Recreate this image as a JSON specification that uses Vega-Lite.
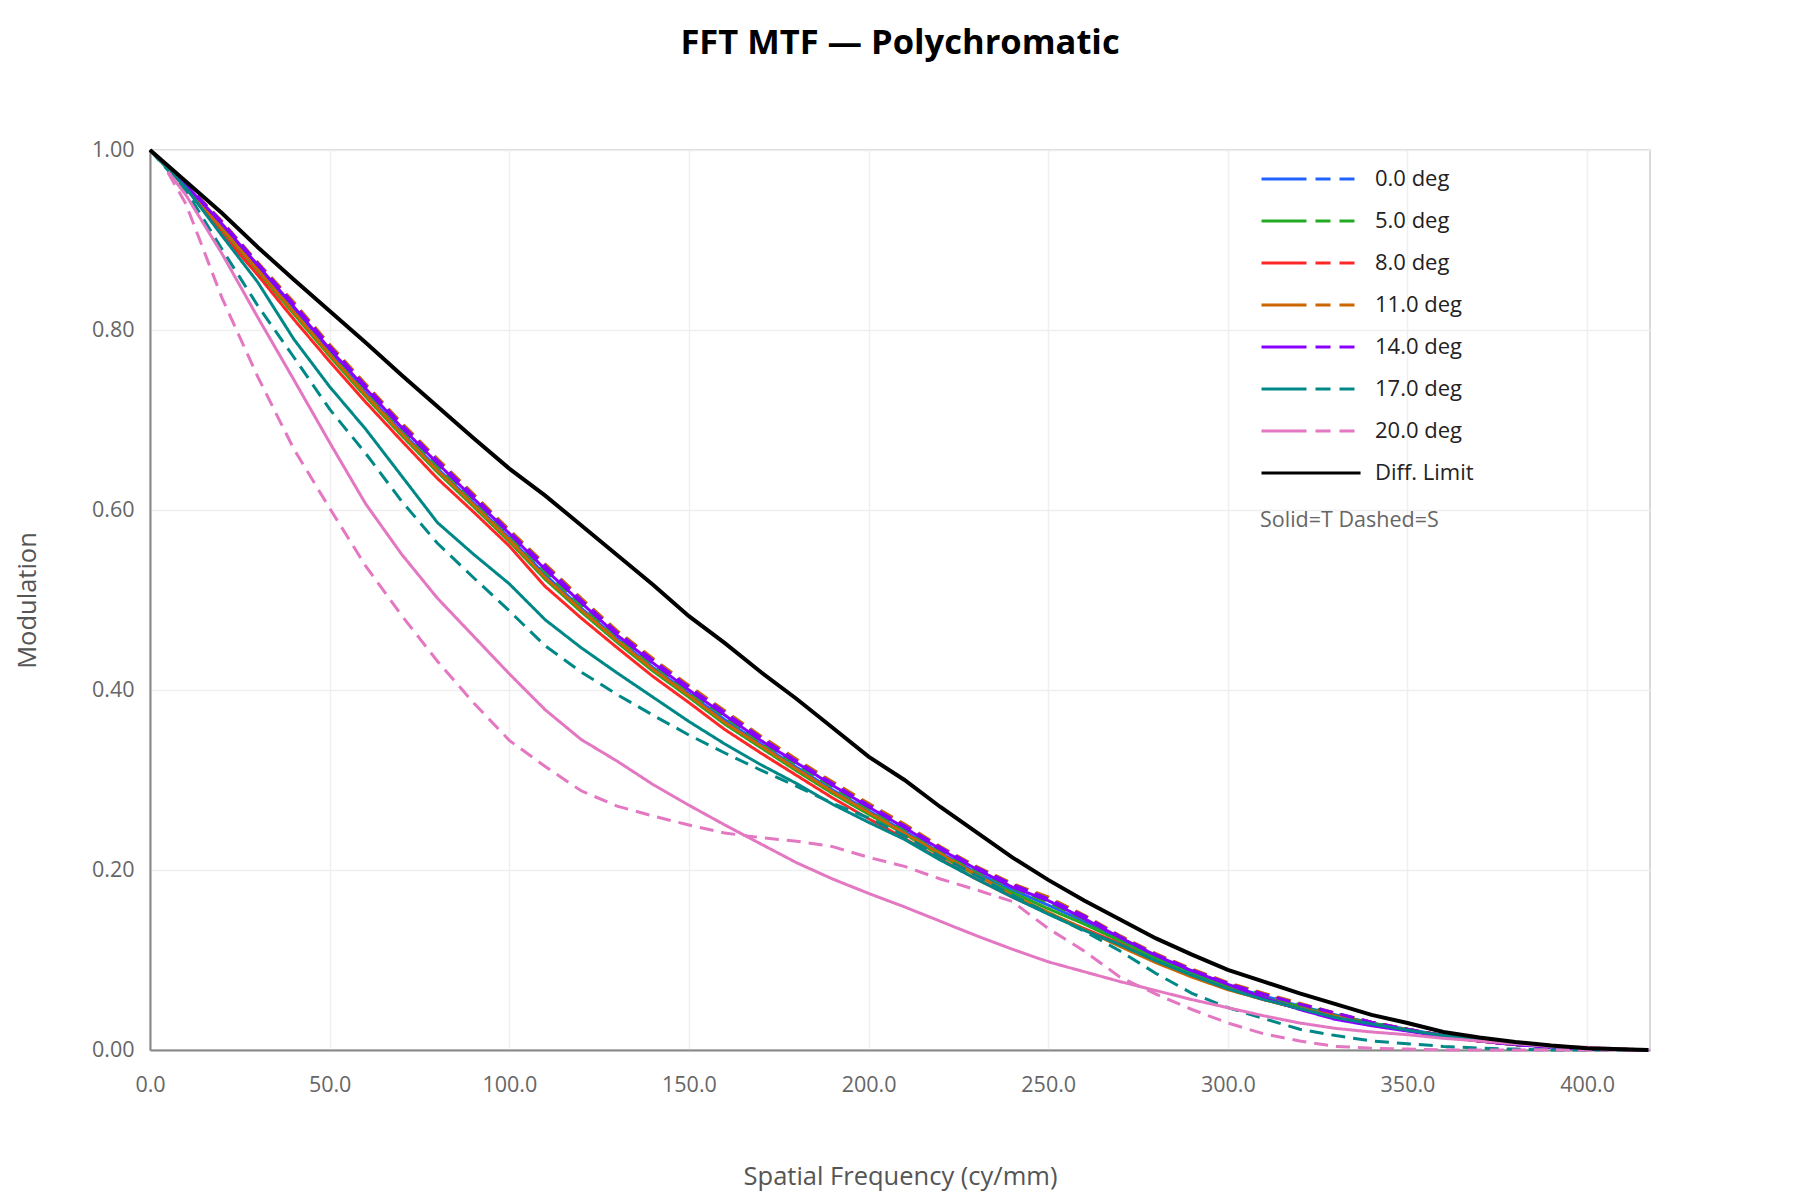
{
  "$schema": "https://vega.github.io/schema/vega-lite/v6.json",
  "width": 1500,
  "height": 900,
  "autosize": {"type": "none"},
  "padding": {"left": 150, "top": 150, "right": 150, "bottom": 150},
  "background": "#ffffff",
  "title": {
    "text": "FFT MTF — Polychromatic",
    "font": "Open Sans",
    "fontSize": 34.5,
    "fontWeight": "bold",
    "color": "#000000",
    "anchor": "middle",
    "offset": 78
  },
  "config": {
    "font": "Open Sans",
    "view": {"stroke": "#cccccc", "strokeWidth": 1.5},
    "axis": {
      "grid": true,
      "gridColor": "#efefef",
      "gridWidth": 1.5,
      "domainColor": "#888888",
      "domainWidth": 2,
      "ticks": false,
      "labelFlush": false,
      "labelFont": "Open Sans",
      "labelFontSize": 21.5,
      "labelColor": "#666666",
      "titleFont": "Open Sans",
      "titleFontSize": 25.5,
      "titleFontWeight": "normal",
      "titleColor": "#555555"
    }
  },
  "data": {
    "values": [
      {"s":"0.0 deg","o":"T","f":0,"m":1},{"s":"0.0 deg","o":"T","f":10,"m":0.960},{"s":"0.0 deg","o":"T","f":20,"m":0.914},{"s":"0.0 deg","o":"T","f":30,"m":0.868},{"s":"0.0 deg","o":"T","f":40,"m":0.822},{"s":"0.0 deg","o":"T","f":50,"m":0.775},{"s":"0.0 deg","o":"T","f":60,"m":0.730},{"s":"0.0 deg","o":"T","f":70,"m":0.687},{"s":"0.0 deg","o":"T","f":80,"m":0.646},{"s":"0.0 deg","o":"T","f":90,"m":0.608},{"s":"0.0 deg","o":"T","f":100,"m":0.569},{"s":"0.0 deg","o":"T","f":110,"m":0.528},{"s":"0.0 deg","o":"T","f":120,"m":0.491},{"s":"0.0 deg","o":"T","f":130,"m":0.457},{"s":"0.0 deg","o":"T","f":140,"m":0.425},{"s":"0.0 deg","o":"T","f":150,"m":0.396},{"s":"0.0 deg","o":"T","f":160,"m":0.367},{"s":"0.0 deg","o":"T","f":170,"m":0.340},{"s":"0.0 deg","o":"T","f":180,"m":0.314},{"s":"0.0 deg","o":"T","f":190,"m":0.289},{"s":"0.0 deg","o":"T","f":200,"m":0.266},{"s":"0.0 deg","o":"T","f":210,"m":0.243},{"s":"0.0 deg","o":"T","f":220,"m":0.219},{"s":"0.0 deg","o":"T","f":230,"m":0.197},{"s":"0.0 deg","o":"T","f":240,"m":0.178},{"s":"0.0 deg","o":"T","f":250,"m":0.161},{"s":"0.0 deg","o":"T","f":260,"m":0.143},{"s":"0.0 deg","o":"T","f":270,"m":0.123},{"s":"0.0 deg","o":"T","f":280,"m":0.103},{"s":"0.0 deg","o":"T","f":290,"m":0.086},{"s":"0.0 deg","o":"T","f":300,"m":0.072},{"s":"0.0 deg","o":"T","f":310,"m":0.060},{"s":"0.0 deg","o":"T","f":320,"m":0.049},{"s":"0.0 deg","o":"T","f":330,"m":0.039},{"s":"0.0 deg","o":"T","f":340,"m":0.030},{"s":"0.0 deg","o":"T","f":350,"m":0.023},{"s":"0.0 deg","o":"T","f":360,"m":0.016},{"s":"0.0 deg","o":"T","f":370,"m":0.010},{"s":"0.0 deg","o":"T","f":380,"m":0.006},{"s":"0.0 deg","o":"T","f":390,"m":0.004},{"s":"0.0 deg","o":"T","f":400,"m":0.002},{"s":"0.0 deg","o":"T","f":417,"m":0},
      {"s":"0.0 deg","o":"S","f":0,"m":1},{"s":"0.0 deg","o":"S","f":10,"m":0.961},{"s":"0.0 deg","o":"S","f":20,"m":0.917},{"s":"0.0 deg","o":"S","f":30,"m":0.871},{"s":"0.0 deg","o":"S","f":40,"m":0.825},{"s":"0.0 deg","o":"S","f":50,"m":0.778},{"s":"0.0 deg","o":"S","f":60,"m":0.734},{"s":"0.0 deg","o":"S","f":70,"m":0.691},{"s":"0.0 deg","o":"S","f":80,"m":0.650},{"s":"0.0 deg","o":"S","f":90,"m":0.612},{"s":"0.0 deg","o":"S","f":100,"m":0.573},{"s":"0.0 deg","o":"S","f":110,"m":0.533},{"s":"0.0 deg","o":"S","f":120,"m":0.495},{"s":"0.0 deg","o":"S","f":130,"m":0.460},{"s":"0.0 deg","o":"S","f":140,"m":0.429},{"s":"0.0 deg","o":"S","f":150,"m":0.399},{"s":"0.0 deg","o":"S","f":160,"m":0.371},{"s":"0.0 deg","o":"S","f":170,"m":0.343},{"s":"0.0 deg","o":"S","f":180,"m":0.318},{"s":"0.0 deg","o":"S","f":190,"m":0.293},{"s":"0.0 deg","o":"S","f":200,"m":0.269},{"s":"0.0 deg","o":"S","f":210,"m":0.246},{"s":"0.0 deg","o":"S","f":220,"m":0.222},{"s":"0.0 deg","o":"S","f":230,"m":0.200},{"s":"0.0 deg","o":"S","f":240,"m":0.181},{"s":"0.0 deg","o":"S","f":250,"m":0.165},{"s":"0.0 deg","o":"S","f":260,"m":0.146},{"s":"0.0 deg","o":"S","f":270,"m":0.124},{"s":"0.0 deg","o":"S","f":280,"m":0.104},{"s":"0.0 deg","o":"S","f":290,"m":0.088},{"s":"0.0 deg","o":"S","f":300,"m":0.073},{"s":"0.0 deg","o":"S","f":310,"m":0.061},{"s":"0.0 deg","o":"S","f":320,"m":0.050},{"s":"0.0 deg","o":"S","f":330,"m":0.040},{"s":"0.0 deg","o":"S","f":340,"m":0.030},{"s":"0.0 deg","o":"S","f":350,"m":0.023},{"s":"0.0 deg","o":"S","f":360,"m":0.016},{"s":"0.0 deg","o":"S","f":370,"m":0.010},{"s":"0.0 deg","o":"S","f":380,"m":0.006},{"s":"0.0 deg","o":"S","f":390,"m":0.003},{"s":"0.0 deg","o":"S","f":400,"m":0.001},{"s":"0.0 deg","o":"S","f":417,"m":0},
      {"s":"5.0 deg","o":"T","f":0,"m":1},{"s":"5.0 deg","o":"T","f":10,"m":0.959},{"s":"5.0 deg","o":"T","f":20,"m":0.911},{"s":"5.0 deg","o":"T","f":30,"m":0.865},{"s":"5.0 deg","o":"T","f":40,"m":0.818},{"s":"5.0 deg","o":"T","f":50,"m":0.771},{"s":"5.0 deg","o":"T","f":60,"m":0.726},{"s":"5.0 deg","o":"T","f":70,"m":0.683},{"s":"5.0 deg","o":"T","f":80,"m":0.642},{"s":"5.0 deg","o":"T","f":90,"m":0.604},{"s":"5.0 deg","o":"T","f":100,"m":0.565},{"s":"5.0 deg","o":"T","f":110,"m":0.523},{"s":"5.0 deg","o":"T","f":120,"m":0.487},{"s":"5.0 deg","o":"T","f":130,"m":0.453},{"s":"5.0 deg","o":"T","f":140,"m":0.421},{"s":"5.0 deg","o":"T","f":150,"m":0.392},{"s":"5.0 deg","o":"T","f":160,"m":0.362},{"s":"5.0 deg","o":"T","f":170,"m":0.336},{"s":"5.0 deg","o":"T","f":180,"m":0.310},{"s":"5.0 deg","o":"T","f":190,"m":0.285},{"s":"5.0 deg","o":"T","f":200,"m":0.262},{"s":"5.0 deg","o":"T","f":210,"m":0.240},{"s":"5.0 deg","o":"T","f":220,"m":0.216},{"s":"5.0 deg","o":"T","f":230,"m":0.194},{"s":"5.0 deg","o":"T","f":240,"m":0.175},{"s":"5.0 deg","o":"T","f":250,"m":0.157},{"s":"5.0 deg","o":"T","f":260,"m":0.140},{"s":"5.0 deg","o":"T","f":270,"m":0.121},{"s":"5.0 deg","o":"T","f":280,"m":0.101},{"s":"5.0 deg","o":"T","f":290,"m":0.084},{"s":"5.0 deg","o":"T","f":300,"m":0.070},{"s":"5.0 deg","o":"T","f":310,"m":0.058},{"s":"5.0 deg","o":"T","f":320,"m":0.048},{"s":"5.0 deg","o":"T","f":330,"m":0.038},{"s":"5.0 deg","o":"T","f":340,"m":0.030},{"s":"5.0 deg","o":"T","f":350,"m":0.022},{"s":"5.0 deg","o":"T","f":360,"m":0.015},{"s":"5.0 deg","o":"T","f":370,"m":0.010},{"s":"5.0 deg","o":"T","f":380,"m":0.006},{"s":"5.0 deg","o":"T","f":390,"m":0.004},{"s":"5.0 deg","o":"T","f":400,"m":0.002},{"s":"5.0 deg","o":"T","f":417,"m":0},
      {"s":"5.0 deg","o":"S","f":0,"m":1},{"s":"5.0 deg","o":"S","f":10,"m":0.961},{"s":"5.0 deg","o":"S","f":20,"m":0.916},{"s":"5.0 deg","o":"S","f":30,"m":0.870},{"s":"5.0 deg","o":"S","f":40,"m":0.824},{"s":"5.0 deg","o":"S","f":50,"m":0.777},{"s":"5.0 deg","o":"S","f":60,"m":0.733},{"s":"5.0 deg","o":"S","f":70,"m":0.690},{"s":"5.0 deg","o":"S","f":80,"m":0.649},{"s":"5.0 deg","o":"S","f":90,"m":0.611},{"s":"5.0 deg","o":"S","f":100,"m":0.572},{"s":"5.0 deg","o":"S","f":110,"m":0.531},{"s":"5.0 deg","o":"S","f":120,"m":0.494},{"s":"5.0 deg","o":"S","f":130,"m":0.459},{"s":"5.0 deg","o":"S","f":140,"m":0.428},{"s":"5.0 deg","o":"S","f":150,"m":0.398},{"s":"5.0 deg","o":"S","f":160,"m":0.370},{"s":"5.0 deg","o":"S","f":170,"m":0.342},{"s":"5.0 deg","o":"S","f":180,"m":0.317},{"s":"5.0 deg","o":"S","f":190,"m":0.292},{"s":"5.0 deg","o":"S","f":200,"m":0.268},{"s":"5.0 deg","o":"S","f":210,"m":0.245},{"s":"5.0 deg","o":"S","f":220,"m":0.221},{"s":"5.0 deg","o":"S","f":230,"m":0.199},{"s":"5.0 deg","o":"S","f":240,"m":0.180},{"s":"5.0 deg","o":"S","f":250,"m":0.164},{"s":"5.0 deg","o":"S","f":260,"m":0.145},{"s":"5.0 deg","o":"S","f":270,"m":0.124},{"s":"5.0 deg","o":"S","f":280,"m":0.104},{"s":"5.0 deg","o":"S","f":290,"m":0.087},{"s":"5.0 deg","o":"S","f":300,"m":0.073},{"s":"5.0 deg","o":"S","f":310,"m":0.061},{"s":"5.0 deg","o":"S","f":320,"m":0.050},{"s":"5.0 deg","o":"S","f":330,"m":0.040},{"s":"5.0 deg","o":"S","f":340,"m":0.030},{"s":"5.0 deg","o":"S","f":350,"m":0.023},{"s":"5.0 deg","o":"S","f":360,"m":0.016},{"s":"5.0 deg","o":"S","f":370,"m":0.010},{"s":"5.0 deg","o":"S","f":380,"m":0.006},{"s":"5.0 deg","o":"S","f":390,"m":0.003},{"s":"5.0 deg","o":"S","f":400,"m":0.001},{"s":"5.0 deg","o":"S","f":417,"m":0},
      {"s":"8.0 deg","o":"T","f":0,"m":1},{"s":"8.0 deg","o":"T","f":10,"m":0.958},{"s":"8.0 deg","o":"T","f":20,"m":0.907},{"s":"8.0 deg","o":"T","f":30,"m":0.861},{"s":"8.0 deg","o":"T","f":40,"m":0.812},{"s":"8.0 deg","o":"T","f":50,"m":0.765},{"s":"8.0 deg","o":"T","f":60,"m":0.720},{"s":"8.0 deg","o":"T","f":70,"m":0.677},{"s":"8.0 deg","o":"T","f":80,"m":0.635},{"s":"8.0 deg","o":"T","f":90,"m":0.598},{"s":"8.0 deg","o":"T","f":100,"m":0.560},{"s":"8.0 deg","o":"T","f":110,"m":0.515},{"s":"8.0 deg","o":"T","f":120,"m":0.480},{"s":"8.0 deg","o":"T","f":130,"m":0.447},{"s":"8.0 deg","o":"T","f":140,"m":0.415},{"s":"8.0 deg","o":"T","f":150,"m":0.386},{"s":"8.0 deg","o":"T","f":160,"m":0.356},{"s":"8.0 deg","o":"T","f":170,"m":0.330},{"s":"8.0 deg","o":"T","f":180,"m":0.305},{"s":"8.0 deg","o":"T","f":190,"m":0.280},{"s":"8.0 deg","o":"T","f":200,"m":0.257},{"s":"8.0 deg","o":"T","f":210,"m":0.235},{"s":"8.0 deg","o":"T","f":220,"m":0.212},{"s":"8.0 deg","o":"T","f":230,"m":0.190},{"s":"8.0 deg","o":"T","f":240,"m":0.170},{"s":"8.0 deg","o":"T","f":250,"m":0.152},{"s":"8.0 deg","o":"T","f":260,"m":0.135},{"s":"8.0 deg","o":"T","f":270,"m":0.118},{"s":"8.0 deg","o":"T","f":280,"m":0.098},{"s":"8.0 deg","o":"T","f":290,"m":0.082},{"s":"8.0 deg","o":"T","f":300,"m":0.068},{"s":"8.0 deg","o":"T","f":310,"m":0.056},{"s":"8.0 deg","o":"T","f":320,"m":0.046},{"s":"8.0 deg","o":"T","f":330,"m":0.037},{"s":"8.0 deg","o":"T","f":340,"m":0.029},{"s":"8.0 deg","o":"T","f":350,"m":0.022},{"s":"8.0 deg","o":"T","f":360,"m":0.015},{"s":"8.0 deg","o":"T","f":370,"m":0.010},{"s":"8.0 deg","o":"T","f":380,"m":0.006},{"s":"8.0 deg","o":"T","f":390,"m":0.004},{"s":"8.0 deg","o":"T","f":400,"m":0.002},{"s":"8.0 deg","o":"T","f":417,"m":0},
      {"s":"8.0 deg","o":"S","f":0,"m":1},{"s":"8.0 deg","o":"S","f":10,"m":0.961},{"s":"8.0 deg","o":"S","f":20,"m":0.919},{"s":"8.0 deg","o":"S","f":30,"m":0.873},{"s":"8.0 deg","o":"S","f":40,"m":0.828},{"s":"8.0 deg","o":"S","f":50,"m":0.781},{"s":"8.0 deg","o":"S","f":60,"m":0.737},{"s":"8.0 deg","o":"S","f":70,"m":0.694},{"s":"8.0 deg","o":"S","f":80,"m":0.654},{"s":"8.0 deg","o":"S","f":90,"m":0.615},{"s":"8.0 deg","o":"S","f":100,"m":0.575},{"s":"8.0 deg","o":"S","f":110,"m":0.536},{"s":"8.0 deg","o":"S","f":120,"m":0.499},{"s":"8.0 deg","o":"S","f":130,"m":0.463},{"s":"8.0 deg","o":"S","f":140,"m":0.432},{"s":"8.0 deg","o":"S","f":150,"m":0.402},{"s":"8.0 deg","o":"S","f":160,"m":0.374},{"s":"8.0 deg","o":"S","f":170,"m":0.346},{"s":"8.0 deg","o":"S","f":180,"m":0.320},{"s":"8.0 deg","o":"S","f":190,"m":0.295},{"s":"8.0 deg","o":"S","f":200,"m":0.271},{"s":"8.0 deg","o":"S","f":210,"m":0.249},{"s":"8.0 deg","o":"S","f":220,"m":0.224},{"s":"8.0 deg","o":"S","f":230,"m":0.202},{"s":"8.0 deg","o":"S","f":240,"m":0.183},{"s":"8.0 deg","o":"S","f":250,"m":0.167},{"s":"8.0 deg","o":"S","f":260,"m":0.148},{"s":"8.0 deg","o":"S","f":270,"m":0.126},{"s":"8.0 deg","o":"S","f":280,"m":0.106},{"s":"8.0 deg","o":"S","f":290,"m":0.089},{"s":"8.0 deg","o":"S","f":300,"m":0.074},{"s":"8.0 deg","o":"S","f":310,"m":0.062},{"s":"8.0 deg","o":"S","f":320,"m":0.051},{"s":"8.0 deg","o":"S","f":330,"m":0.040},{"s":"8.0 deg","o":"S","f":340,"m":0.031},{"s":"8.0 deg","o":"S","f":350,"m":0.023},{"s":"8.0 deg","o":"S","f":360,"m":0.016},{"s":"8.0 deg","o":"S","f":370,"m":0.010},{"s":"8.0 deg","o":"S","f":380,"m":0.006},{"s":"8.0 deg","o":"S","f":390,"m":0.003},{"s":"8.0 deg","o":"S","f":400,"m":0.001},{"s":"8.0 deg","o":"S","f":417,"m":0},
      {"s":"11.0 deg","o":"T","f":0,"m":1},{"s":"11.0 deg","o":"T","f":10,"m":0.960},{"s":"11.0 deg","o":"T","f":20,"m":0.913},{"s":"11.0 deg","o":"T","f":30,"m":0.867},{"s":"11.0 deg","o":"T","f":40,"m":0.820},{"s":"11.0 deg","o":"T","f":50,"m":0.773},{"s":"11.0 deg","o":"T","f":60,"m":0.728},{"s":"11.0 deg","o":"T","f":70,"m":0.685},{"s":"11.0 deg","o":"T","f":80,"m":0.644},{"s":"11.0 deg","o":"T","f":90,"m":0.606},{"s":"11.0 deg","o":"T","f":100,"m":0.567},{"s":"11.0 deg","o":"T","f":110,"m":0.525},{"s":"11.0 deg","o":"T","f":120,"m":0.489},{"s":"11.0 deg","o":"T","f":130,"m":0.455},{"s":"11.0 deg","o":"T","f":140,"m":0.423},{"s":"11.0 deg","o":"T","f":150,"m":0.394},{"s":"11.0 deg","o":"T","f":160,"m":0.364},{"s":"11.0 deg","o":"T","f":170,"m":0.338},{"s":"11.0 deg","o":"T","f":180,"m":0.312},{"s":"11.0 deg","o":"T","f":190,"m":0.287},{"s":"11.0 deg","o":"T","f":200,"m":0.264},{"s":"11.0 deg","o":"T","f":210,"m":0.241},{"s":"11.0 deg","o":"T","f":220,"m":0.218},{"s":"11.0 deg","o":"T","f":230,"m":0.195},{"s":"11.0 deg","o":"T","f":240,"m":0.172},{"s":"11.0 deg","o":"T","f":250,"m":0.153},{"s":"11.0 deg","o":"T","f":260,"m":0.134},{"s":"11.0 deg","o":"T","f":270,"m":0.115},{"s":"11.0 deg","o":"T","f":280,"m":0.097},{"s":"11.0 deg","o":"T","f":290,"m":0.081},{"s":"11.0 deg","o":"T","f":300,"m":0.067},{"s":"11.0 deg","o":"T","f":310,"m":0.056},{"s":"11.0 deg","o":"T","f":320,"m":0.046},{"s":"11.0 deg","o":"T","f":330,"m":0.037},{"s":"11.0 deg","o":"T","f":340,"m":0.029},{"s":"11.0 deg","o":"T","f":350,"m":0.022},{"s":"11.0 deg","o":"T","f":360,"m":0.015},{"s":"11.0 deg","o":"T","f":370,"m":0.010},{"s":"11.0 deg","o":"T","f":380,"m":0.006},{"s":"11.0 deg","o":"T","f":390,"m":0.004},{"s":"11.0 deg","o":"T","f":400,"m":0.002},{"s":"11.0 deg","o":"T","f":417,"m":0},
      {"s":"11.0 deg","o":"S","f":0,"m":1},{"s":"11.0 deg","o":"S","f":10,"m":0.962},{"s":"11.0 deg","o":"S","f":20,"m":0.921},{"s":"11.0 deg","o":"S","f":30,"m":0.875},{"s":"11.0 deg","o":"S","f":40,"m":0.831},{"s":"11.0 deg","o":"S","f":50,"m":0.784},{"s":"11.0 deg","o":"S","f":60,"m":0.740},{"s":"11.0 deg","o":"S","f":70,"m":0.697},{"s":"11.0 deg","o":"S","f":80,"m":0.657},{"s":"11.0 deg","o":"S","f":90,"m":0.618},{"s":"11.0 deg","o":"S","f":100,"m":0.578},{"s":"11.0 deg","o":"S","f":110,"m":0.540},{"s":"11.0 deg","o":"S","f":120,"m":0.502},{"s":"11.0 deg","o":"S","f":130,"m":0.466},{"s":"11.0 deg","o":"S","f":140,"m":0.435},{"s":"11.0 deg","o":"S","f":150,"m":0.405},{"s":"11.0 deg","o":"S","f":160,"m":0.377},{"s":"11.0 deg","o":"S","f":170,"m":0.349},{"s":"11.0 deg","o":"S","f":180,"m":0.323},{"s":"11.0 deg","o":"S","f":190,"m":0.298},{"s":"11.0 deg","o":"S","f":200,"m":0.274},{"s":"11.0 deg","o":"S","f":210,"m":0.251},{"s":"11.0 deg","o":"S","f":220,"m":0.226},{"s":"11.0 deg","o":"S","f":230,"m":0.204},{"s":"11.0 deg","o":"S","f":240,"m":0.185},{"s":"11.0 deg","o":"S","f":250,"m":0.170},{"s":"11.0 deg","o":"S","f":260,"m":0.150},{"s":"11.0 deg","o":"S","f":270,"m":0.127},{"s":"11.0 deg","o":"S","f":280,"m":0.107},{"s":"11.0 deg","o":"S","f":290,"m":0.090},{"s":"11.0 deg","o":"S","f":300,"m":0.075},{"s":"11.0 deg","o":"S","f":310,"m":0.063},{"s":"11.0 deg","o":"S","f":320,"m":0.052},{"s":"11.0 deg","o":"S","f":330,"m":0.041},{"s":"11.0 deg","o":"S","f":340,"m":0.031},{"s":"11.0 deg","o":"S","f":350,"m":0.023},{"s":"11.0 deg","o":"S","f":360,"m":0.016},{"s":"11.0 deg","o":"S","f":370,"m":0.010},{"s":"11.0 deg","o":"S","f":380,"m":0.006},{"s":"11.0 deg","o":"S","f":390,"m":0.003},{"s":"11.0 deg","o":"S","f":400,"m":0.001},{"s":"11.0 deg","o":"S","f":417,"m":0},
      {"s":"14.0 deg","o":"T","f":0,"m":1},{"s":"14.0 deg","o":"T","f":10,"m":0.961},{"s":"14.0 deg","o":"T","f":20,"m":0.918},{"s":"14.0 deg","o":"T","f":30,"m":0.872},{"s":"14.0 deg","o":"T","f":40,"m":0.826},{"s":"14.0 deg","o":"T","f":50,"m":0.779},{"s":"14.0 deg","o":"T","f":60,"m":0.735},{"s":"14.0 deg","o":"T","f":70,"m":0.692},{"s":"14.0 deg","o":"T","f":80,"m":0.652},{"s":"14.0 deg","o":"T","f":90,"m":0.613},{"s":"14.0 deg","o":"T","f":100,"m":0.574},{"s":"14.0 deg","o":"T","f":110,"m":0.534},{"s":"14.0 deg","o":"T","f":120,"m":0.497},{"s":"14.0 deg","o":"T","f":130,"m":0.461},{"s":"14.0 deg","o":"T","f":140,"m":0.430},{"s":"14.0 deg","o":"T","f":150,"m":0.400},{"s":"14.0 deg","o":"T","f":160,"m":0.372},{"s":"14.0 deg","o":"T","f":170,"m":0.344},{"s":"14.0 deg","o":"T","f":180,"m":0.319},{"s":"14.0 deg","o":"T","f":190,"m":0.294},{"s":"14.0 deg","o":"T","f":200,"m":0.270},{"s":"14.0 deg","o":"T","f":210,"m":0.247},{"s":"14.0 deg","o":"T","f":220,"m":0.223},{"s":"14.0 deg","o":"T","f":230,"m":0.201},{"s":"14.0 deg","o":"T","f":240,"m":0.181},{"s":"14.0 deg","o":"T","f":250,"m":0.166},{"s":"14.0 deg","o":"T","f":260,"m":0.146},{"s":"14.0 deg","o":"T","f":270,"m":0.125},{"s":"14.0 deg","o":"T","f":280,"m":0.105},{"s":"14.0 deg","o":"T","f":290,"m":0.088},{"s":"14.0 deg","o":"T","f":300,"m":0.073},{"s":"14.0 deg","o":"T","f":310,"m":0.058},{"s":"14.0 deg","o":"T","f":320,"m":0.045},{"s":"14.0 deg","o":"T","f":330,"m":0.034},{"s":"14.0 deg","o":"T","f":340,"m":0.027},{"s":"14.0 deg","o":"T","f":350,"m":0.021},{"s":"14.0 deg","o":"T","f":360,"m":0.015},{"s":"14.0 deg","o":"T","f":370,"m":0.010},{"s":"14.0 deg","o":"T","f":380,"m":0.006},{"s":"14.0 deg","o":"T","f":390,"m":0.003},{"s":"14.0 deg","o":"T","f":400,"m":0.001},{"s":"14.0 deg","o":"T","f":417,"m":0},
      {"s":"14.0 deg","o":"S","f":0,"m":1},{"s":"14.0 deg","o":"S","f":10,"m":0.962},{"s":"14.0 deg","o":"S","f":20,"m":0.920},{"s":"14.0 deg","o":"S","f":30,"m":0.874},{"s":"14.0 deg","o":"S","f":40,"m":0.829},{"s":"14.0 deg","o":"S","f":50,"m":0.782},{"s":"14.0 deg","o":"S","f":60,"m":0.738},{"s":"14.0 deg","o":"S","f":70,"m":0.695},{"s":"14.0 deg","o":"S","f":80,"m":0.655},{"s":"14.0 deg","o":"S","f":90,"m":0.616},{"s":"14.0 deg","o":"S","f":100,"m":0.576},{"s":"14.0 deg","o":"S","f":110,"m":0.538},{"s":"14.0 deg","o":"S","f":120,"m":0.500},{"s":"14.0 deg","o":"S","f":130,"m":0.464},{"s":"14.0 deg","o":"S","f":140,"m":0.433},{"s":"14.0 deg","o":"S","f":150,"m":0.403},{"s":"14.0 deg","o":"S","f":160,"m":0.375},{"s":"14.0 deg","o":"S","f":170,"m":0.347},{"s":"14.0 deg","o":"S","f":180,"m":0.321},{"s":"14.0 deg","o":"S","f":190,"m":0.296},{"s":"14.0 deg","o":"S","f":200,"m":0.272},{"s":"14.0 deg","o":"S","f":210,"m":0.249},{"s":"14.0 deg","o":"S","f":220,"m":0.225},{"s":"14.0 deg","o":"S","f":230,"m":0.203},{"s":"14.0 deg","o":"S","f":240,"m":0.184},{"s":"14.0 deg","o":"S","f":250,"m":0.168},{"s":"14.0 deg","o":"S","f":260,"m":0.149},{"s":"14.0 deg","o":"S","f":270,"m":0.126},{"s":"14.0 deg","o":"S","f":280,"m":0.106},{"s":"14.0 deg","o":"S","f":290,"m":0.089},{"s":"14.0 deg","o":"S","f":300,"m":0.074},{"s":"14.0 deg","o":"S","f":310,"m":0.062},{"s":"14.0 deg","o":"S","f":320,"m":0.051},{"s":"14.0 deg","o":"S","f":330,"m":0.041},{"s":"14.0 deg","o":"S","f":340,"m":0.031},{"s":"14.0 deg","o":"S","f":350,"m":0.023},{"s":"14.0 deg","o":"S","f":360,"m":0.016},{"s":"14.0 deg","o":"S","f":370,"m":0.010},{"s":"14.0 deg","o":"S","f":380,"m":0.006},{"s":"14.0 deg","o":"S","f":390,"m":0.003},{"s":"14.0 deg","o":"S","f":400,"m":0.001},{"s":"14.0 deg","o":"S","f":417,"m":0},
      {"s":"17.0 deg","o":"T","f":0,"m":1},{"s":"17.0 deg","o":"T","f":10,"m":0.958},{"s":"17.0 deg","o":"T","f":20,"m":0.905},{"s":"17.0 deg","o":"T","f":30,"m":0.853},{"s":"17.0 deg","o":"T","f":40,"m":0.790},{"s":"17.0 deg","o":"T","f":50,"m":0.737},{"s":"17.0 deg","o":"T","f":60,"m":0.690},{"s":"17.0 deg","o":"T","f":70,"m":0.638},{"s":"17.0 deg","o":"T","f":80,"m":0.586},{"s":"17.0 deg","o":"T","f":90,"m":0.551},{"s":"17.0 deg","o":"T","f":100,"m":0.518},{"s":"17.0 deg","o":"T","f":110,"m":0.478},{"s":"17.0 deg","o":"T","f":120,"m":0.447},{"s":"17.0 deg","o":"T","f":130,"m":0.419},{"s":"17.0 deg","o":"T","f":140,"m":0.392},{"s":"17.0 deg","o":"T","f":150,"m":0.365},{"s":"17.0 deg","o":"T","f":160,"m":0.340},{"s":"17.0 deg","o":"T","f":170,"m":0.317},{"s":"17.0 deg","o":"T","f":180,"m":0.296},{"s":"17.0 deg","o":"T","f":190,"m":0.273},{"s":"17.0 deg","o":"T","f":200,"m":0.253},{"s":"17.0 deg","o":"T","f":210,"m":0.234},{"s":"17.0 deg","o":"T","f":220,"m":0.211},{"s":"17.0 deg","o":"T","f":230,"m":0.190},{"s":"17.0 deg","o":"T","f":240,"m":0.170},{"s":"17.0 deg","o":"T","f":250,"m":0.151},{"s":"17.0 deg","o":"T","f":260,"m":0.133},{"s":"17.0 deg","o":"T","f":270,"m":0.117},{"s":"17.0 deg","o":"T","f":280,"m":0.099},{"s":"17.0 deg","o":"T","f":290,"m":0.083},{"s":"17.0 deg","o":"T","f":300,"m":0.068},{"s":"17.0 deg","o":"T","f":310,"m":0.056},{"s":"17.0 deg","o":"T","f":320,"m":0.046},{"s":"17.0 deg","o":"T","f":330,"m":0.036},{"s":"17.0 deg","o":"T","f":340,"m":0.029},{"s":"17.0 deg","o":"T","f":350,"m":0.022},{"s":"17.0 deg","o":"T","f":360,"m":0.016},{"s":"17.0 deg","o":"T","f":370,"m":0.011},{"s":"17.0 deg","o":"T","f":380,"m":0.007},{"s":"17.0 deg","o":"T","f":390,"m":0.004},{"s":"17.0 deg","o":"T","f":400,"m":0.002},{"s":"17.0 deg","o":"T","f":417,"m":0},
      {"s":"17.0 deg","o":"S","f":0,"m":1},{"s":"17.0 deg","o":"S","f":10,"m":0.955},{"s":"17.0 deg","o":"S","f":20,"m":0.890},{"s":"17.0 deg","o":"S","f":30,"m":0.827},{"s":"17.0 deg","o":"S","f":40,"m":0.770},{"s":"17.0 deg","o":"S","f":50,"m":0.712},{"s":"17.0 deg","o":"S","f":60,"m":0.663},{"s":"17.0 deg","o":"S","f":70,"m":0.610},{"s":"17.0 deg","o":"S","f":80,"m":0.563},{"s":"17.0 deg","o":"S","f":90,"m":0.525},{"s":"17.0 deg","o":"S","f":100,"m":0.488},{"s":"17.0 deg","o":"S","f":110,"m":0.449},{"s":"17.0 deg","o":"S","f":120,"m":0.420},{"s":"17.0 deg","o":"S","f":130,"m":0.395},{"s":"17.0 deg","o":"S","f":140,"m":0.372},{"s":"17.0 deg","o":"S","f":150,"m":0.350},{"s":"17.0 deg","o":"S","f":160,"m":0.330},{"s":"17.0 deg","o":"S","f":170,"m":0.311},{"s":"17.0 deg","o":"S","f":180,"m":0.293},{"s":"17.0 deg","o":"S","f":190,"m":0.274},{"s":"17.0 deg","o":"S","f":200,"m":0.258},{"s":"17.0 deg","o":"S","f":210,"m":0.238},{"s":"17.0 deg","o":"S","f":220,"m":0.215},{"s":"17.0 deg","o":"S","f":230,"m":0.194},{"s":"17.0 deg","o":"S","f":240,"m":0.172},{"s":"17.0 deg","o":"S","f":250,"m":0.152},{"s":"17.0 deg","o":"S","f":260,"m":0.132},{"s":"17.0 deg","o":"S","f":270,"m":0.110},{"s":"17.0 deg","o":"S","f":280,"m":0.085},{"s":"17.0 deg","o":"S","f":290,"m":0.063},{"s":"17.0 deg","o":"S","f":300,"m":0.047},{"s":"17.0 deg","o":"S","f":310,"m":0.035},{"s":"17.0 deg","o":"S","f":320,"m":0.023},{"s":"17.0 deg","o":"S","f":330,"m":0.016},{"s":"17.0 deg","o":"S","f":340,"m":0.010},{"s":"17.0 deg","o":"S","f":350,"m":0.007},{"s":"17.0 deg","o":"S","f":360,"m":0.004},{"s":"17.0 deg","o":"S","f":370,"m":0.002},{"s":"17.0 deg","o":"S","f":380,"m":0.001},{"s":"17.0 deg","o":"S","f":390,"m":0},{"s":"17.0 deg","o":"S","f":400,"m":0},{"s":"17.0 deg","o":"S","f":417,"m":0},
      {"s":"20.0 deg","o":"T","f":5,"m":0.976},{"s":"20.0 deg","o":"T","f":10,"m":0.950},{"s":"20.0 deg","o":"T","f":20,"m":0.885},{"s":"20.0 deg","o":"T","f":30,"m":0.814},{"s":"20.0 deg","o":"T","f":40,"m":0.745},{"s":"20.0 deg","o":"T","f":50,"m":0.675},{"s":"20.0 deg","o":"T","f":60,"m":0.607},{"s":"20.0 deg","o":"T","f":70,"m":0.551},{"s":"20.0 deg","o":"T","f":80,"m":0.502},{"s":"20.0 deg","o":"T","f":90,"m":0.460},{"s":"20.0 deg","o":"T","f":100,"m":0.418},{"s":"20.0 deg","o":"T","f":110,"m":0.378},{"s":"20.0 deg","o":"T","f":120,"m":0.345},{"s":"20.0 deg","o":"T","f":130,"m":0.321},{"s":"20.0 deg","o":"T","f":140,"m":0.295},{"s":"20.0 deg","o":"T","f":150,"m":0.272},{"s":"20.0 deg","o":"T","f":160,"m":0.250},{"s":"20.0 deg","o":"T","f":170,"m":0.229},{"s":"20.0 deg","o":"T","f":180,"m":0.208},{"s":"20.0 deg","o":"T","f":190,"m":0.190},{"s":"20.0 deg","o":"T","f":200,"m":0.174},{"s":"20.0 deg","o":"T","f":210,"m":0.159},{"s":"20.0 deg","o":"T","f":220,"m":0.143},{"s":"20.0 deg","o":"T","f":230,"m":0.127},{"s":"20.0 deg","o":"T","f":240,"m":0.112},{"s":"20.0 deg","o":"T","f":250,"m":0.098},{"s":"20.0 deg","o":"T","f":260,"m":0.087},{"s":"20.0 deg","o":"T","f":270,"m":0.076},{"s":"20.0 deg","o":"T","f":280,"m":0.066},{"s":"20.0 deg","o":"T","f":290,"m":0.056},{"s":"20.0 deg","o":"T","f":300,"m":0.047},{"s":"20.0 deg","o":"T","f":310,"m":0.038},{"s":"20.0 deg","o":"T","f":320,"m":0.030},{"s":"20.0 deg","o":"T","f":330,"m":0.024},{"s":"20.0 deg","o":"T","f":340,"m":0.020},{"s":"20.0 deg","o":"T","f":350,"m":0.017},{"s":"20.0 deg","o":"T","f":360,"m":0.013},{"s":"20.0 deg","o":"T","f":370,"m":0.010},{"s":"20.0 deg","o":"T","f":380,"m":0.007},{"s":"20.0 deg","o":"T","f":390,"m":0.004},{"s":"20.0 deg","o":"T","f":400,"m":0.003},{"s":"20.0 deg","o":"T","f":417,"m":0},
      {"s":"20.0 deg","o":"S","f":5,"m":0.975},{"s":"20.0 deg","o":"S","f":10,"m":0.940},{"s":"20.0 deg","o":"S","f":20,"m":0.836},{"s":"20.0 deg","o":"S","f":30,"m":0.748},{"s":"20.0 deg","o":"S","f":40,"m":0.668},{"s":"20.0 deg","o":"S","f":50,"m":0.602},{"s":"20.0 deg","o":"S","f":60,"m":0.538},{"s":"20.0 deg","o":"S","f":70,"m":0.483},{"s":"20.0 deg","o":"S","f":80,"m":0.432},{"s":"20.0 deg","o":"S","f":90,"m":0.386},{"s":"20.0 deg","o":"S","f":100,"m":0.344},{"s":"20.0 deg","o":"S","f":110,"m":0.315},{"s":"20.0 deg","o":"S","f":120,"m":0.288},{"s":"20.0 deg","o":"S","f":130,"m":0.271},{"s":"20.0 deg","o":"S","f":140,"m":0.260},{"s":"20.0 deg","o":"S","f":150,"m":0.250},{"s":"20.0 deg","o":"S","f":160,"m":0.241},{"s":"20.0 deg","o":"S","f":170,"m":0.236},{"s":"20.0 deg","o":"S","f":180,"m":0.232},{"s":"20.0 deg","o":"S","f":190,"m":0.226},{"s":"20.0 deg","o":"S","f":200,"m":0.214},{"s":"20.0 deg","o":"S","f":210,"m":0.204},{"s":"20.0 deg","o":"S","f":220,"m":0.190},{"s":"20.0 deg","o":"S","f":230,"m":0.178},{"s":"20.0 deg","o":"S","f":240,"m":0.165},{"s":"20.0 deg","o":"S","f":250,"m":0.135},{"s":"20.0 deg","o":"S","f":260,"m":0.110},{"s":"20.0 deg","o":"S","f":270,"m":0.081},{"s":"20.0 deg","o":"S","f":280,"m":0.062},{"s":"20.0 deg","o":"S","f":290,"m":0.045},{"s":"20.0 deg","o":"S","f":300,"m":0.030},{"s":"20.0 deg","o":"S","f":310,"m":0.018},{"s":"20.0 deg","o":"S","f":320,"m":0.010},{"s":"20.0 deg","o":"S","f":330,"m":0.004},{"s":"20.0 deg","o":"S","f":340,"m":0.002},{"s":"20.0 deg","o":"S","f":350,"m":0.001},{"s":"20.0 deg","o":"S","f":360,"m":0},{"s":"20.0 deg","o":"S","f":370,"m":0},{"s":"20.0 deg","o":"S","f":380,"m":0},{"s":"20.0 deg","o":"S","f":390,"m":0},{"s":"20.0 deg","o":"S","f":400,"m":0},{"s":"20.0 deg","o":"S","f":417,"m":0},
      {"s":"Diff. Limit","o":"D","f":0,"m":1},{"s":"Diff. Limit","o":"D","f":10,"m":0.965},{"s":"Diff. Limit","o":"D","f":20,"m":0.930},{"s":"Diff. Limit","o":"D","f":30,"m":0.892},{"s":"Diff. Limit","o":"D","f":40,"m":0.856},{"s":"Diff. Limit","o":"D","f":50,"m":0.821},{"s":"Diff. Limit","o":"D","f":60,"m":0.786},{"s":"Diff. Limit","o":"D","f":70,"m":0.750},{"s":"Diff. Limit","o":"D","f":80,"m":0.715},{"s":"Diff. Limit","o":"D","f":90,"m":0.680},{"s":"Diff. Limit","o":"D","f":100,"m":0.646},{"s":"Diff. Limit","o":"D","f":110,"m":0.616},{"s":"Diff. Limit","o":"D","f":120,"m":0.583},{"s":"Diff. Limit","o":"D","f":130,"m":0.550},{"s":"Diff. Limit","o":"D","f":140,"m":0.517},{"s":"Diff. Limit","o":"D","f":150,"m":0.482},{"s":"Diff. Limit","o":"D","f":160,"m":0.452},{"s":"Diff. Limit","o":"D","f":170,"m":0.420},{"s":"Diff. Limit","o":"D","f":180,"m":0.390},{"s":"Diff. Limit","o":"D","f":190,"m":0.358},{"s":"Diff. Limit","o":"D","f":200,"m":0.326},{"s":"Diff. Limit","o":"D","f":210,"m":0.300},{"s":"Diff. Limit","o":"D","f":220,"m":0.270},{"s":"Diff. Limit","o":"D","f":230,"m":0.242},{"s":"Diff. Limit","o":"D","f":240,"m":0.214},{"s":"Diff. Limit","o":"D","f":250,"m":0.189},{"s":"Diff. Limit","o":"D","f":260,"m":0.166},{"s":"Diff. Limit","o":"D","f":270,"m":0.145},{"s":"Diff. Limit","o":"D","f":280,"m":0.124},{"s":"Diff. Limit","o":"D","f":290,"m":0.106},{"s":"Diff. Limit","o":"D","f":300,"m":0.089},{"s":"Diff. Limit","o":"D","f":310,"m":0.076},{"s":"Diff. Limit","o":"D","f":320,"m":0.063},{"s":"Diff. Limit","o":"D","f":330,"m":0.051},{"s":"Diff. Limit","o":"D","f":340,"m":0.039},{"s":"Diff. Limit","o":"D","f":350,"m":0.030},{"s":"Diff. Limit","o":"D","f":360,"m":0.020},{"s":"Diff. Limit","o":"D","f":370,"m":0.014},{"s":"Diff. Limit","o":"D","f":380,"m":0.009},{"s":"Diff. Limit","o":"D","f":390,"m":0.005},{"s":"Diff. Limit","o":"D","f":400,"m":0.002},{"s":"Diff. Limit","o":"D","f":417,"m":0}
    ]
  },
  "encoding": {
    "x": {
      "field": "f",
      "type": "quantitative",
      "title": "Spatial Frequency (cy/mm)",
      "scale": {"domain": [0, 417.5], "nice": false, "zero": true},
      "axis": {
        "values": [0, 50, 100, 150, 200, 250, 300, 350, 400],
        "format": ".1f",
        "labelPadding": 24,
        "titleX": 750,
        "titleY": 126,
        "titleBaseline": "middle"
      }
    },
    "y": {
      "field": "m",
      "type": "quantitative",
      "title": "Modulation",
      "scale": {"domain": [0, 1], "nice": false},
      "axis": {
        "values": [0, 0.2, 0.4, 0.6, 0.8, 1],
        "format": ".2f",
        "labelPadding": 16,
        "titleX": -123,
        "titleY": 450,
        "titleAngle": -90,
        "titleBaseline": "middle",
        "titleAlign": "center"
      }
    },
    "color": {
      "field": "s",
      "type": "nominal",
      "sort": null,
      "scale": {
        "domain": ["0.0 deg", "5.0 deg", "8.0 deg", "11.0 deg", "14.0 deg", "17.0 deg", "20.0 deg", "Diff. Limit"],
        "range": ["#1f62ff", "#22aa22", "#ff2626", "#cc6600", "#8800ff", "#008888", "#e377c2", "#000000"]
      },
      "legend": {
        "orient": "none",
        "legendX": 1110,
        "legendY": 8,
        "direction": "vertical",
        "title": "Solid=T Dashed=S",
        "titleOrient": "bottom",
        "titleFont": "Open Sans",
        "titleFontSize": 21.5,
        "titleFontWeight": "normal",
        "titleColor": "#666666",
        "titlePadding": 16,
        "titleLimit": 400,
        "symbolType": "M-1,0H-0.032M0.161,0H0.484M0.677,0H1",
        "symbolSize": 8649,
        "symbolStrokeWidth": 3,
        "clipHeight": 42,
        "rowPadding": 0,
        "labelFont": "Open Sans",
        "labelFontSize": 22,
        "labelColor": "#222222",
        "labelOffset": 19,
        "padding": 0,
        "encode": {
          "symbols": {
            "update": {
              "shape": {"signal": "datum.value === 'Diff. Limit' ? 'M-1,0H1.13' : 'M-1,0H-0.032M0.161,0H0.484M0.677,0H1'"},
              "strokeWidth": {"value": 3}
            }
          }
        }
      }
    }
  },
  "layer": [
    {
      "transform": [{"filter": "datum.o !== 'D'"}],
      "mark": {"type": "line", "interpolate": "linear", "strokeWidth": 3, "strokeCap": "butt"},
      "encoding": {
        "strokeDash": {
          "field": "o",
          "type": "nominal",
          "scale": {"domain": ["T", "S"], "range": [[1, 0], [14, 8]]},
          "legend": null
        }
      }
    },
    {
      "transform": [{"filter": "datum.o === 'D'"}],
      "mark": {"type": "line", "interpolate": "linear", "strokeWidth": 4, "strokeCap": "butt"},
      "encoding": {}
    }
  ]
}
